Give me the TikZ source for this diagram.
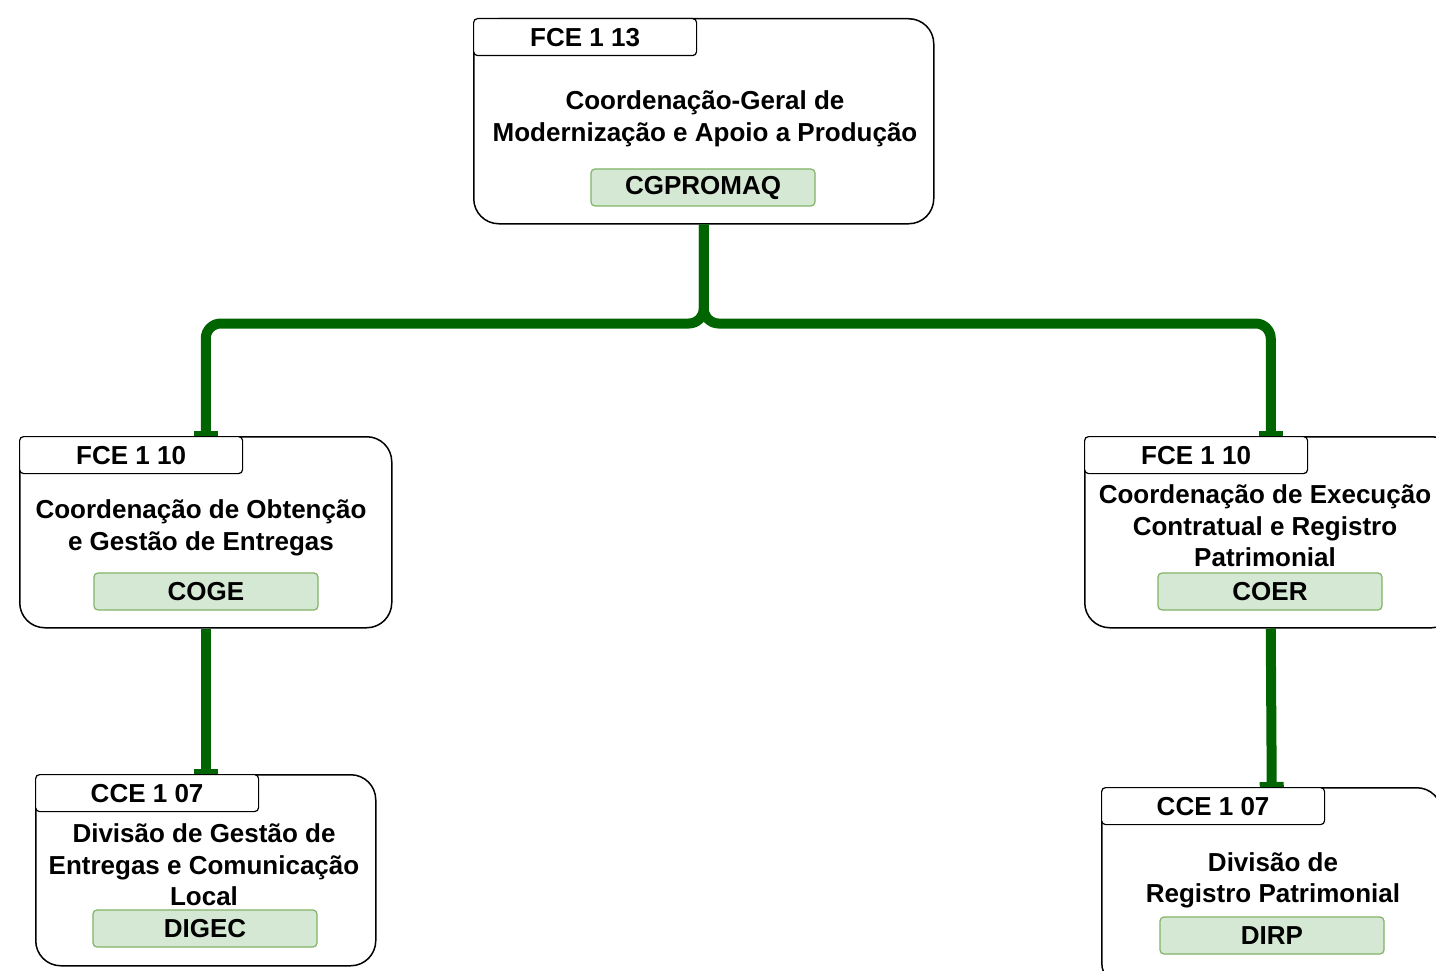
\documentclass[tikz,border=0pt]{standalone}
\usepackage{fontspec}
\setmainfont{Liberation Sans}
\usetikzlibrary{arrows.meta,positioning}
\definecolor{linkgreen}{RGB}{0,100,0}
\definecolor{tagfill}{RGB}{213,232,212}
\definecolor{tagdraw}{RGB}{130,179,102}

\tikzset{
	unitbox/.style={draw=black, line width=1.5pt, rounded corners=25pt, fill=white, anchor=north west, inner sep=0pt},
	gradebox/.style={draw=black, line width=1.2pt, rounded corners=4pt, fill=white, anchor=north west,
		minimum width=223pt, minimum height=37pt, inner sep=0pt, font=\bfseries\fontsize{26}{26}\selectfont},
	unitname/.style={align=center, inner sep=0pt, font=\bfseries\fontsize{26}{31.5}\selectfont},
	acronym/.style={draw=tagdraw, fill=tagfill, line width=1.2pt, rounded corners=4pt,
		minimum width=224pt, minimum height=37pt, inner sep=0pt, font=\bfseries\fontsize{26}{26}\selectfont},
	link/.style={linkgreen, line width=10pt, rounded corners=15pt, -{Rectangle[length=5pt, width=24pt]}},
}

\begin{document}
\begin{tikzpicture}[x=1pt, y=-1pt]

	\useasboundingbox (0, 0) rectangle (1436, 971);
	\clip (0, 0) rectangle (1436, 971);

	% Coordenacao-Geral
	\node[unitbox, minimum width=460pt, minimum height=205pt] (cgpromaq-box) at (473, 18) {};
	\node[gradebox] (cgpromaq-grade) at (cgpromaq-box.north west) {FCE 1 13};
	\node[unitname] (cgpromaq-name) at (705, 119) {Coordenação-Geral de\\Modernização e Apoio a Produção};
	\node[acronym] (cgpromaq) at (703, 187.5) {CGPROMAQ};

	% Coordenacoes
	\node[unitbox, minimum width=372pt, minimum height=191pt] (coge-box) at (19, 436) {};
	\node[gradebox] (coge-grade) at (coge-box.north west) {FCE 1 10};
	\node[unitname] (coge-name) at (201, 528) {Coordenação de Obtenção\\e Gestão de Entregas};
	\node[acronym] (coge) at (206, 591.5) {COGE};

	\node[unitbox, minimum width=372pt, minimum height=191pt] (coer-box) at (1084, 436) {};
	\node[gradebox] (coer-grade) at (coer-box.north west) {FCE 1 10};
	\node[unitname] (coer-name) at (1265, 526) {Coordenação de Execução\\Contratual e Registro\\Patrimonial};
	\node[acronym] (coer) at (1270, 591.5) {COER};

	% Divisoes
	\node[unitbox, minimum width=340pt, minimum height=191pt] (digec-box) at (35, 774) {};
	\node[gradebox] (digec-grade) at (digec-box.north west) {CCE 1 07};
	\node[unitname] (digec-name) at (204, 865) {Divisão de Gestão de\\Entregas e Comunicação\\Local};
	\node[acronym] (digec) at (205, 928.5) {DIGEC};

	\node[unitbox, minimum width=340pt, minimum height=200pt] (dirp-box) at (1101, 787) {};
	\node[gradebox] (dirp-grade) at (dirp-box.north west) {CCE 1 07};
	\node[unitname] (dirp-name) at (1273, 880.5) {Divisão de\\Registro Patrimonial};
	\node[acronym] (dirp) at (1272, 935.5) {DIRP};

	% Ligacoes
	\draw[link] (cgpromaq-box.south) -- ++(0, 99) -| (coge-box.north);
	\draw[link] (cgpromaq-box.south) -- ++(0, 99) -| (coer-box.north);
	\draw[link] (coge-box.south) -- (digec-box.north);
	\draw[link] (coer-box.south) -- (dirp-box.north);

\end{tikzpicture}
\end{document}
